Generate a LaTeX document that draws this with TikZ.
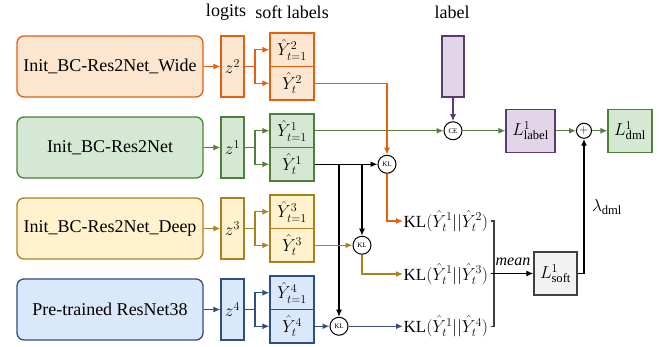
\documentclass[tikz,border=0pt]{standalone}
\usepackage{fontspec}
\setmainfont{Liberation Serif}
\usetikzlibrary{arrows.meta}
\definecolor{orS}{HTML}{E2600F}
\definecolor{orF}{HTML}{FDE6D0}
\definecolor{grS}{HTML}{4F7F3A}
\definecolor{grF}{HTML}{D5E8D4}
\definecolor{yeS}{HTML}{AA8020}
\definecolor{yeF}{HTML}{FFF2CC}
\definecolor{blS}{HTML}{2E4F7F}
\definecolor{blF}{HTML}{DAE8FC}
\definecolor{puS}{HTML}{5B3A6E}
\definecolor{puF}{HTML}{E1D5E7}
\definecolor{gyF}{HTML}{F2F2F2}
\definecolor{gyS}{HTML}{404040}
\tikzset{
  netbox/.style={rounded corners=7pt, draw, minimum width=186pt, minimum height=61pt, inner sep=0pt},
  zbox/.style={draw, minimum width=23pt, minimum height=61pt, inner sep=0pt},
  sbox/.style={draw, minimum width=44pt, minimum height=33.5pt, inner sep=0pt},
  lbox/.style={draw, minimum width=46pt, minimum height=43pt, inner sep=0pt},
  opc/.style={circle, draw=black, fill=white, minimum size=18pt, inner sep=0pt, font=\fontsize{7}{8}\selectfont, line width=1pt},
  conn/.style={->, line width=1.3pt},
  kltext/.style={anchor=west, inner sep=0pt, font=\fontsize{17}{20}\selectfont}
}
\begin{document}
\begin{tikzpicture}[x=1pt,y=-1pt, font=\fontsize{18}{21}\selectfont, >={Latex[length=7pt,width=6pt]}, line width=1.3pt]
\useasboundingbox (0,0) rectangle (670,347);

% headers
\node (hlog) at (226,12) {logits};
\node (hsoft) at (292,12) {soft labels};
\node (hlab) at (452,12) {label};

% row 2 (orange)
\node[netbox, draw=orS, fill=orF] (n2) at (110,66.5) {Init\_BC-Res2Net\_Wide};
\node[zbox, draw=orS, fill=orF] (z2) at (232.5,66.5) {$z^2$};
\node[sbox, draw=orS, fill=orF] (s2a) at (292,49.75) {$\hat{Y}^2_{t=1}$};
\node[sbox, draw=orS, fill=orF] (s2b) at (292,83.25) {$\hat{Y}^2_{t}$};
% row 1 (green)
\node[netbox, draw=grS, fill=grF] (n1) at (110,147.5) {Init\_BC-Res2Net};
\node[zbox, draw=grS, fill=grF] (z1) at (232.5,147.5) {$z^1$};
\node[sbox, draw=grS, fill=grF] (s1a) at (292,130.75) {$\hat{Y}^1_{t=1}$};
\node[sbox, draw=grS, fill=grF] (s1b) at (292,164.25) {$\hat{Y}^1_{t}$};
% row 3 (yellow)
\node[netbox, draw=yeS, fill=yeF] (n3) at (110,228.5) {Init\_BC-Res2Net\_Deep};
\node[zbox, draw=yeS, fill=yeF] (z3) at (232.5,228.5) {$z^3$};
\node[sbox, draw=yeS, fill=yeF] (s3a) at (292,211.75) {$\hat{Y}^3_{t=1}$};
\node[sbox, draw=yeS, fill=yeF] (s3b) at (292,245.25) {$\hat{Y}^3_{t}$};
% row 4 (blue)
\node[netbox, draw=blS, fill=blF] (n4) at (110,309.5) {Pre-trained ResNet38};
\node[zbox, draw=blS, fill=blF] (z4) at (232.5,309.5) {$z^4$};
\node[sbox, draw=blS, fill=blF] (s4a) at (292,292.75) {$\hat{Y}^4_{t=1}$};
\node[sbox, draw=blS, fill=blF] (s4b) at (292,326.25) {$\hat{Y}^4_{t}$};

% branch points
\coordinate (b2) at (255,66.5);
\coordinate (b1) at (255,147.5);
\coordinate (b3) at (255,228.5);
\coordinate (b4) at (255,309.5);

\draw[conn, orS] (n2) -- (z2);
\draw[orS] (z2.east) -- (b2);
\draw[conn, orS] (b2) |- (s2a.west);
\draw[conn, orS] (b2) |- (s2b.west);
\draw[conn, grS] (n1) -- (z1);
\draw[grS] (z1.east) -- (b1);
\draw[conn, grS] (b1) |- (s1a.west);
\draw[conn, grS] (b1) |- (s1b.west);
\draw[conn, yeS] (n3) -- (z3);
\draw[yeS] (z3.east) -- (b3);
\draw[conn, yeS] (b3) |- (s3a.west);
\draw[conn, yeS] (b3) |- (s3b.west);
\draw[conn, blS] (n4) -- (z4);
\draw[blS] (z4.east) -- (b4);
\draw[conn, blS] (b4) |- (s4a.west);
\draw[conn, blS] (b4) |- (s4b.west);

% label branch
\node[draw=puS, fill=puF, minimum width=22pt, minimum height=61pt, inner sep=0pt] (lab) at (453,66.5) {};
\node[opc] (ce) at (453,130.75) {CE};
\node[lbox, draw=puS, fill=puF, minimum width=49pt] (llab) at (530.5,130.75) {$L^1_{\mathrm{label}}$};
\node[opc, minimum size=15pt, font=\fontsize{13}{13}\selectfont] (plus) at (584,130.75) {$+$};
\node[lbox, draw=grS, fill=grF, minimum width=44pt] (ldml) at (630,130.75) {$L^1_{\mathrm{dml}}$};

\draw[conn, grS] (s1a.east) -- (ce.west);
\draw[conn, puS] (lab.south) -- (ce.north);
\draw[conn, grS] (ce) -- (llab);
\draw[conn, grS] (llab) -- (plus);
\draw[conn, grS] (plus) -- (ldml);

% KL operators
\node[opc] (kl1) at (387,164.25) {KL};
\node[opc] (kl2) at (362,245.25) {KL};
\node[opc] (kl3) at (339,326.25) {KL};
\coordinate (j1) at (362,164.25);
\coordinate (j2) at (339,164.25);

\draw[conn, orS] (s2b.east) -| (kl1.north);
\draw[conn] (s1b.east) -- (kl1.west);
\draw[conn] (j1) -- (kl2.north);
\draw[conn] (j2) -- (kl3.north);
\draw[conn, yeS] (s3b.east) -- (kl2.west);
\draw[conn, blS] (s4b.east) -- (kl3.west);

\node[kltext] (t1) at (403,221) {KL$\Bigl(\hat{Y}^1_t||\hat{Y}^2_t\Bigr)$};
\node[kltext] (t2) at (403,274) {KL$\Bigl(\hat{Y}^1_t||\hat{Y}^3_t\Bigr)$};
\node[kltext] (t3) at (403,326.25) {KL$\Bigl(\hat{Y}^1_t||\hat{Y}^4_t\Bigr)$};

\draw[conn, orS] (kl1.south) |- (t1.west);
\draw[conn, yeS] (kl2.south) |- (t2.west);
\draw[conn, blS] (kl3.east) -- (t3.west);

% bracket and mean
\coordinate (bx) at (494,221);
\draw[gyS] ([xshift=2pt]t1.east) -- (bx) |- ([xshift=2pt]t3.east);
\node[lbox, draw=gyS, fill=gyF, minimum width=43pt] (lsoft) at (555.5,273.5) {$L^1_{\mathrm{soft}}$};
\draw[conn] ([xshift=2pt]t2.east |- lsoft.west) -- (lsoft.west);
\node[font=\fontsize{16}{18}\selectfont\itshape] (mean) at (513,262) {mean};
\draw[conn] (lsoft.east) -| (plus.south);
\node (lam) at (607,207) {$\lambda_{\mathrm{dml}}$};
\end{tikzpicture}
\end{document}
